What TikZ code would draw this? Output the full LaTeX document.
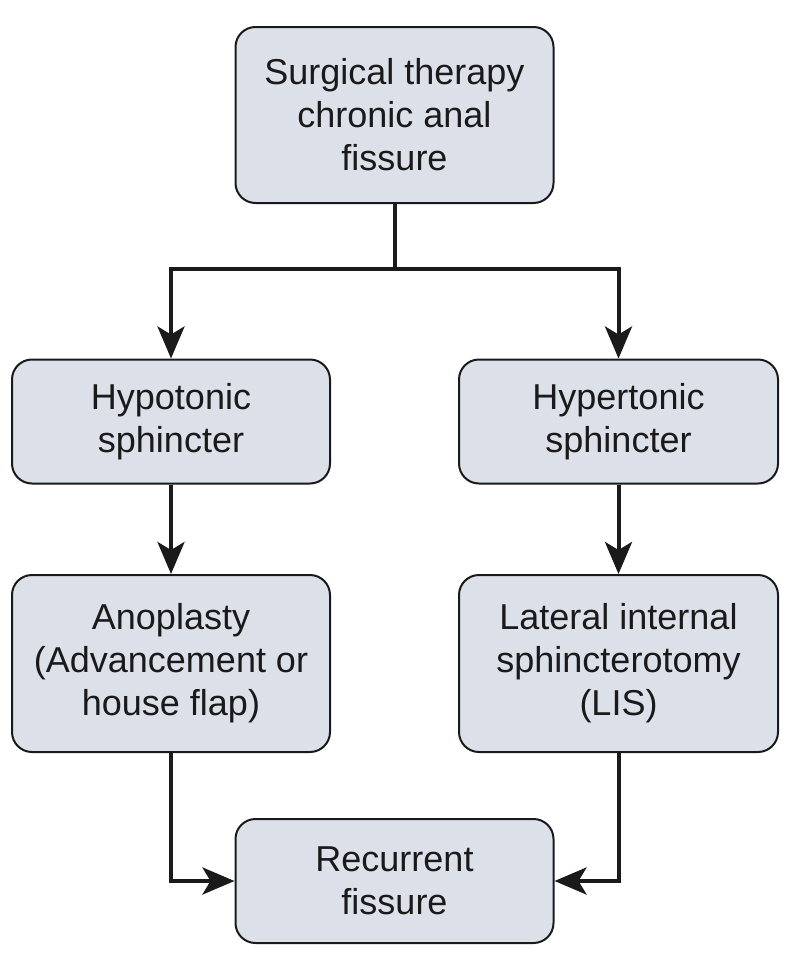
\documentclass[tikz,border=0pt]{standalone}
\usepackage{fontspec}
\setmainfont{Liberation Sans}
\usetikzlibrary{arrows.meta}
\definecolor{boxFill}{HTML}{DCE0E8}
\definecolor{inkLine}{HTML}{1A1A1A}
\begin{document}
\begin{tikzpicture}[x=1pt,y=-1pt,>={Stealth[length=32pt,width=27pt,inset=8pt]},
    flowbox/.style={draw=inkLine,line width=2pt,fill=boxFill,rounded corners=20pt,
        align=center,inner sep=0pt,text=inkLine,
        font=\fontsize{36}{43}\selectfont},
    conn/.style={draw=inkLine,line width=4pt}]
        \useasboundingbox (0,0) rectangle (790,972);

        % Top of the decision tree.
        \node[flowbox,minimum width=318pt,minimum height=176pt] (surgery)
            at (394.5,115) {Surgical therapy\\chronic anal\\fissure};

        % Sphincter tone.
        \node[flowbox,minimum width=318pt,minimum height=124pt] (hypo)
            at (171,421.5) {Hypotonic\\sphincter};
        \node[flowbox,minimum width=319pt,minimum height=124pt] (hyper)
            at (618.5,421.5) {Hypertonic\\sphincter};

        % Procedures.
        \node[flowbox,minimum width=318pt,minimum height=177pt] (anoplasty)
            at (171,663.5) {Anoplasty\\(Advancement or\\house flap)};
        \node[flowbox,minimum width=319pt,minimum height=177pt] (lis)
            at (618.5,663.5) {Lateral internal\\sphincterotomy\\(LIS)};

        % Outcome.
        \node[flowbox,minimum width=318pt,minimum height=124pt] (recurrent)
            at (394.5,881) {Recurrent\\fissure};

        \draw[conn,->] (surgery.south) -- ++(0,65) -| (hypo.north);
        \draw[conn,->] (surgery.south) -- ++(0,65) -| (hyper.north);
        \draw[conn,->] (hypo.south) -- (anoplasty.north);
        \draw[conn,->] (hyper.south) -- (lis.north);
        \draw[conn,->] (anoplasty.south) |- (recurrent.west);
        \draw[conn,->] (lis.south) |- (recurrent.east);
    \end{tikzpicture}
\end{document}
